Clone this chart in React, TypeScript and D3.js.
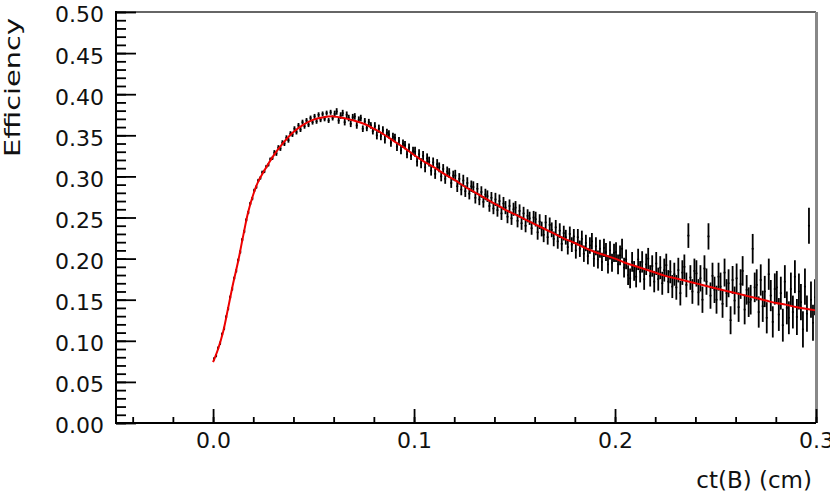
import { useEffect, useRef } from "react";
import * as d3 from "d3";

// efficiency histogram: 300 bins of 0.001 cm starting at ct = 0
const binStart = 0;
const binWidth = 0.001;
const effValues = [
  0.078, 0.082, 0.091, 0.097, 0.108, 0.115, 0.129, 0.139, 0.153, 0.163,
  0.176, 0.185, 0.198, 0.208, 0.223, 0.233, 0.247, 0.256, 0.267, 0.273,
  0.283, 0.287, 0.295, 0.298, 0.305, 0.306, 0.312, 0.314, 0.321, 0.322,
  0.329, 0.328, 0.335, 0.334, 0.341, 0.340, 0.347, 0.344, 0.352, 0.351,
  0.358, 0.354, 0.362, 0.357, 0.366, 0.361, 0.368, 0.363, 0.371, 0.366,
  0.373, 0.367, 0.375, 0.369, 0.376, 0.370, 0.377, 0.368, 0.378, 0.371,
  0.376, 0.379, 0.368, 0.374, 0.377, 0.366, 0.375, 0.371, 0.364, 0.372,
  0.373, 0.362, 0.369, 0.371, 0.358, 0.367, 0.359, 0.366, 0.362, 0.355,
  0.361, 0.350, 0.358, 0.349, 0.356, 0.345, 0.353, 0.351, 0.341, 0.348,
  0.347, 0.336, 0.343, 0.332, 0.340, 0.338, 0.327, 0.335, 0.325, 0.331,
  0.330, 0.318, 0.327, 0.316, 0.325, 0.311, 0.322, 0.318, 0.307, 0.317,
  0.303, 0.315, 0.311, 0.300, 0.309, 0.297, 0.306, 0.304, 0.292, 0.301,
  0.301, 0.288, 0.297, 0.284, 0.295, 0.282, 0.292, 0.279, 0.288, 0.287,
  0.274, 0.285, 0.272, 0.281, 0.269, 0.278, 0.276, 0.264, 0.274, 0.261,
  0.272, 0.259, 0.270, 0.255, 0.267, 0.262, 0.251, 0.264, 0.249, 0.260,
  0.262, 0.246, 0.258, 0.243, 0.255, 0.240, 0.252, 0.249, 0.237, 0.250,
  0.248, 0.232, 0.245, 0.236, 0.229, 0.244, 0.226, 0.241, 0.235, 0.224,
  0.238, 0.221, 0.234, 0.218, 0.231, 0.226, 0.214, 0.230, 0.217, 0.227,
  0.210, 0.226, 0.212, 0.224, 0.206, 0.219, 0.203, 0.216, 0.221, 0.200,
  0.215, 0.199, 0.212, 0.196, 0.213, 0.208, 0.193, 0.210, 0.195, 0.207,
  0.208, 0.193, 0.204, 0.212, 0.189, 0.199, 0.180, 0.176, 0.196, 0.185,
  0.178, 0.199, 0.184, 0.196, 0.175, 0.193, 0.200, 0.179, 0.191, 0.172,
  0.194, 0.175, 0.189, 0.170, 0.186, 0.192, 0.172, 0.184, 0.166, 0.181,
  0.165, 0.186, 0.158, 0.183, 0.190, 0.168, 0.228, 0.177, 0.160, 0.185,
  0.182, 0.159, 0.176, 0.150, 0.188, 0.172, 0.227, 0.155, 0.179, 0.162,
  0.150, 0.178, 0.166, 0.145, 0.183, 0.158, 0.170, 0.125, 0.174, 0.149,
  0.176, 0.141, 0.169, 0.185, 0.138, 0.162, 0.147, 0.150, 0.212, 0.165,
  0.168, 0.135, 0.174, 0.142, 0.160, 0.128, 0.181, 0.155, 0.123, 0.163,
  0.165, 0.132, 0.158, 0.119, 0.172, 0.140, 0.128, 0.163, 0.135, 0.178,
  0.129, 0.160, 0.147, 0.114, 0.166, 0.133, 0.240, 0.150, 0.122, 0.153,
];
// error bar half length, one value per group of ten bins
const effErrors = [
  0.002, 0.002, 0.002, 0.003, 0.003, 0.003, 0.004, 0.004, 0.005, 0.005,
  0.006, 0.006, 0.007, 0.007, 0.008, 0.008, 0.009, 0.009, 0.010, 0.011,
  0.012, 0.013, 0.014, 0.015, 0.016, 0.017, 0.018, 0.019, 0.020, 0.022,
];

// fitted curve
const fitX = [
  0, 0.0025, 0.005, 0.0075, 0.01, 0.0125, 0.015, 0.0175, 0.02, 0.0225, 0.025,
  0.03, 0.035, 0.04, 0.045, 0.05, 0.055, 0.06, 0.065, 0.07, 0.075, 0.08, 0.085,
  0.09, 0.095, 0.1, 0.105, 0.11, 0.115, 0.12, 0.125, 0.13, 0.135, 0.14, 0.145,
  0.15, 0.155, 0.16, 0.165, 0.17, 0.175, 0.18, 0.185, 0.19, 0.195, 0.2, 0.205,
  0.21, 0.215, 0.22, 0.225, 0.23, 0.235, 0.24, 0.245, 0.25, 0.255, 0.26, 0.265,
  0.27, 0.275, 0.28, 0.285, 0.29, 0.295, 0.3,
];
const fitY = [
  0.074, 0.090, 0.111, 0.140, 0.170, 0.197, 0.228, 0.257, 0.278, 0.294, 0.305,
  0.325, 0.341, 0.354, 0.363, 0.369, 0.372, 0.373, 0.371, 0.368, 0.364, 0.358, 0.351,
  0.343, 0.335, 0.326, 0.318, 0.311, 0.303, 0.296, 0.288, 0.281, 0.274, 0.267, 0.260,
  0.254, 0.248, 0.242, 0.236, 0.230, 0.224, 0.219, 0.213, 0.208, 0.204, 0.200, 0.195,
  0.191, 0.187, 0.183, 0.179, 0.176, 0.173, 0.170, 0.167, 0.164, 0.161, 0.158, 0.155,
  0.152, 0.149, 0.146, 0.144, 0.141, 0.139, 0.137,
];

const yMajorTicks = [0, 0.05, 0.1, 0.15, 0.2, 0.25, 0.3, 0.35, 0.4, 0.45, 0.5];
const xMajorTicks = [0, 0.1, 0.2, 0.3];

export default function App() {
  const ref = useRef<SVGSVGElement>(null);

  useEffect(() => {
    const width = 830;
    const height = 498;
    const margin = { top: 12, right: 14, bottom: 75, left: 116 };
    const font = "'DejaVu Sans', Verdana, sans-serif";

    const x = d3.scaleLinear()
      .domain([-0.0483, 0.3])
      .range([margin.left, width - margin.right]);
    const y = d3.scaleLinear()
      .domain([0, 0.5])
      .range([height - margin.bottom, margin.top]);

    const svg = d3.select(ref.current)
      .attr("width", width)
      .attr("height", height)
      .attr("viewBox", `0 0 ${width} ${height}`);
    svg.selectAll("*").remove();

    svg.append("rect").attr("width", width).attr("height", height).attr("fill", "#fff");

    // --- histogram points with error bars ---
    const bins = effValues.map((v, i) => ({
      lo: binStart + i * binWidth,
      hi: binStart + (i + 1) * binWidth,
      v,
      e: effErrors[Math.floor(i / 10)],
    }));

    const pts = svg.append("g").attr("stroke", "#000");
    pts.selectAll("line.ev")
      .data(bins)
      .join("line")
      .attr("class", "ev")
      .attr("stroke-width", 1.8)
      .attr("x1", d => x((d.lo + d.hi) / 2))
      .attr("x2", d => x((d.lo + d.hi) / 2))
      .attr("y1", d => y(d.v - d.e))
      .attr("y2", d => y(d.v + d.e));
    pts.selectAll("line.eh")
      .data(bins)
      .join("line")
      .attr("class", "eh")
      .attr("stroke-width", 1.6)
      .attr("x1", d => x(d.lo))
      .attr("x2", d => x(d.hi))
      .attr("y1", d => y(d.v))
      .attr("y2", d => y(d.v));

    // --- fit curve ---
    const line = d3.line<number>()
      .x((_, i) => x(fitX[i]))
      .y(d => y(d))
      .curve(d3.curveCatmullRom);
    svg.append("path")
      .datum(fitY)
      .attr("d", line)
      .attr("fill", "none")
      .attr("stroke", "#ee0000")
      .attr("stroke-width", 2);

    // --- frame ---
    svg.append("line")
      .attr("x1", margin.left).attr("x2", width - margin.right)
      .attr("y1", margin.top).attr("y2", margin.top)
      .attr("stroke", "#666").attr("stroke-width", 2);
    svg.append("line")
      .attr("x1", width - margin.right + 0.5).attr("x2", width - margin.right + 0.5)
      .attr("y1", margin.top).attr("y2", height - margin.bottom)
      .attr("stroke", "#888").attr("stroke-width", 3);

    // --- axes ---
    const styleAxis = (g: any) => {
      g.select(".domain").remove();
      g.selectAll(".tick line").attr("stroke", "#000").attr("stroke-width", 1.8);
      g.selectAll("text")
        .attr("fill", "#111")
        .attr("font-family", font)
        .attr("font-size", 22);
    };

    svg.append("g")
      .attr("transform", `translate(${margin.left},0)`)
      .call(d3.axisLeft(y).tickValues(d3.range(0, 0.5001, 0.01)).tickSize(-10).tickFormat(() => ""))
      .call(styleAxis);
    svg.append("g")
      .attr("transform", `translate(${margin.left},0)`)
      .call(d3.axisLeft(y).tickValues(yMajorTicks).tickSize(-20).tickPadding(12).tickFormat(d3.format(".2f")))
      .call(styleAxis)
      .selectAll("text")
      .attr("dy", "0.45em");

    svg.append("g")
      .attr("transform", `translate(0,${height - margin.bottom})`)
      .call(d3.axisBottom(x).tickValues(d3.range(-0.04, 0.3001, 0.02)).tickSize(-6).tickFormat(() => ""))
      .call(styleAxis);
    svg.append("g")
      .attr("transform", `translate(0,${height - margin.bottom})`)
      .call(d3.axisBottom(x).tickValues(xMajorTicks).tickSize(-14).tickPadding(9).tickFormat(d3.format(".1f")))
      .call(styleAxis);

    // axis lines
    svg.append("line")
      .attr("x1", margin.left).attr("x2", margin.left)
      .attr("y1", margin.top - 1).attr("y2", height - margin.bottom + 1)
      .attr("stroke", "#000").attr("stroke-width", 2);
    svg.append("line")
      .attr("x1", margin.left).attr("x2", width - margin.right)
      .attr("y1", height - margin.bottom).attr("y2", height - margin.bottom)
      .attr("stroke", "#000").attr("stroke-width", 2);

    // --- titles ---
    svg.append("text")
      .attr("transform", `translate(20,18) rotate(-90)`)
      .attr("text-anchor", "end")
      .attr("font-family", font)
      .attr("font-size", 21)
      .attr("fill", "#111")
      .attr("textLength", 139)
      .attr("lengthAdjust", "spacingAndGlyphs")
      .text("Efficiency");

    svg.append("text")
      .attr("x", 812)
      .attr("y", 488)
      .attr("text-anchor", "end")
      .attr("font-family", font)
      .attr("font-size", 23)
      .attr("fill", "#111")
      .text("ct(B) (cm)");
  }, []);

  return (
    <svg ref={ref} style={{ position: "absolute", left: 0, top: 0, display: "block" }}></svg>
  );
}
